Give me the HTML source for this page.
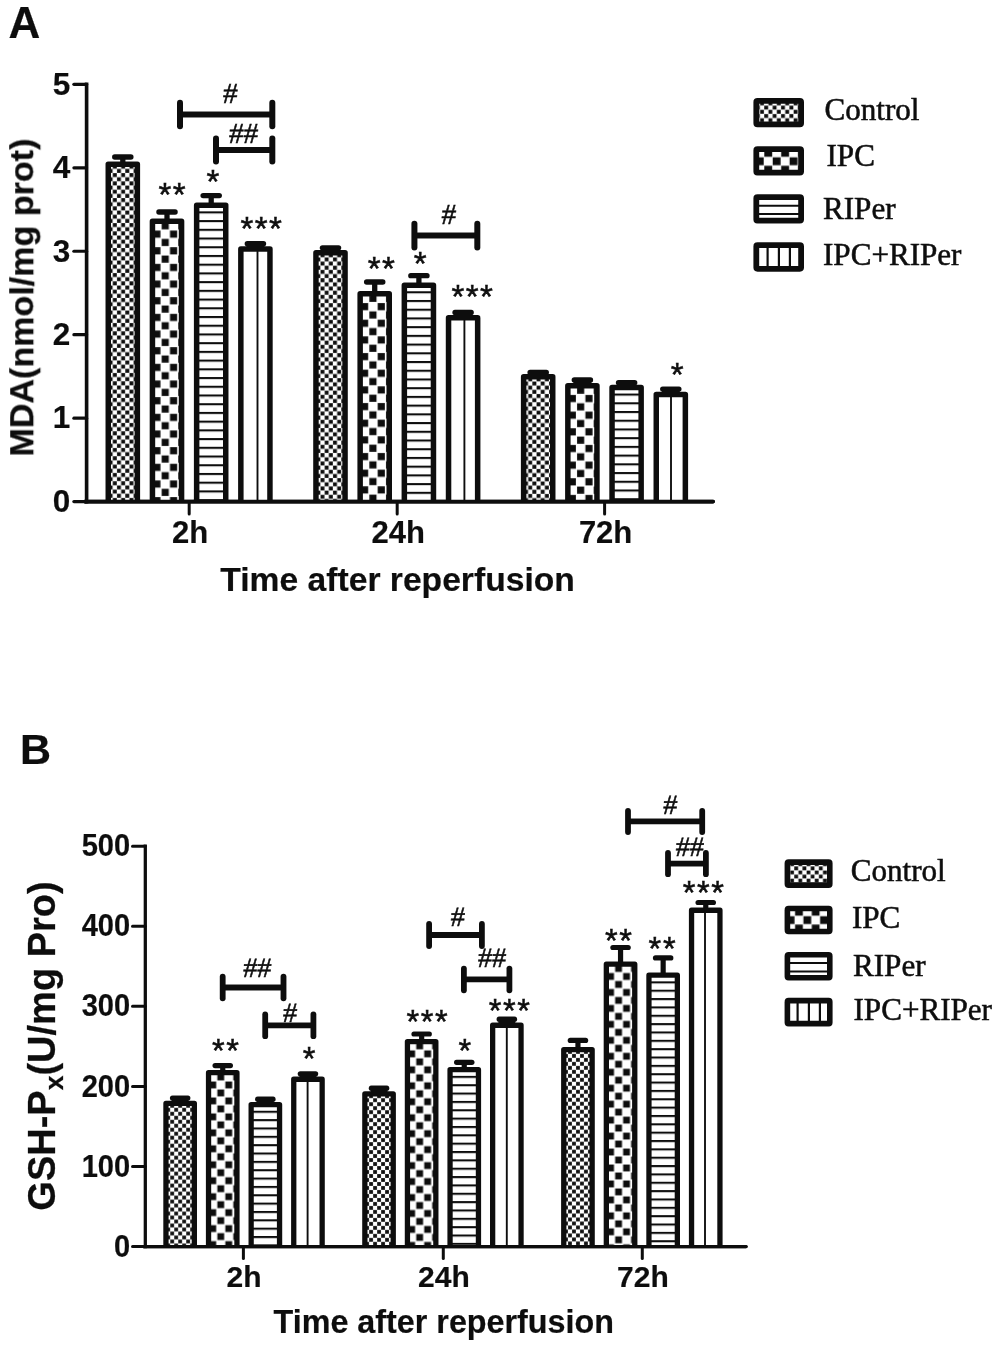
<!DOCTYPE html>
<html lang="en"><head><meta charset="utf-8"><title>MDA and GSH-Px after reperfusion</title>
<style>html,body{margin:0;padding:0;background:#fff}svg{display:block}</style></head><body>
<svg width="1000" height="1347" viewBox="0 0 1000 1347">
<rect width="1000" height="1347" fill="#fff"/>
<defs>
<filter id="soft" x="0" y="0" width="1000" height="1347" filterUnits="userSpaceOnUse"><feGaussianBlur stdDeviation="0.6"/></filter>
<pattern id="af" patternUnits="userSpaceOnUse" x="3.05" y="3.15" width="8.33" height="8.33"><rect width="8.33" height="8.33" fill="#fff"/><rect x="4.27" y="0.1" width="3.96" height="3.96" fill="#111"/><rect x="0.1" y="4.27" width="3.96" height="3.96" fill="#111"/></pattern>
<pattern id="ac" patternUnits="userSpaceOnUse" x="3.05" y="3.15" width="16.66" height="16.66"><rect width="16.66" height="16.66" fill="#fff"/><rect x="8.91" y="0.58" width="7.16" height="7.16" fill="#111"/><rect x="0.58" y="8.91" width="7.16" height="7.16" fill="#111"/></pattern>
<pattern id="ah" patternUnits="userSpaceOnUse" x="0" y="8.85" width="40" height="8.72"><rect width="40" height="8.72" fill="#fff"/><rect x="0" y="0" width="40" height="2.1" fill="#111"/></pattern>
<pattern id="bf" patternUnits="userSpaceOnUse" x="2.9" y="3" width="7.98" height="7.98"><rect width="7.98" height="7.98" fill="#fff"/><rect x="4.09" y="0.1" width="3.79" height="3.79" fill="#111"/><rect x="0.1" y="4.09" width="3.79" height="3.79" fill="#111"/></pattern>
<pattern id="bc" patternUnits="userSpaceOnUse" x="2.9" y="3" width="15.96" height="15.96"><rect width="15.96" height="15.96" fill="#fff"/><rect x="8.54" y="0.56" width="6.86" height="6.86" fill="#111"/><rect x="0.56" y="8.54" width="6.86" height="6.86" fill="#111"/></pattern>
<pattern id="bh" patternUnits="userSpaceOnUse" x="0" y="8.85" width="40" height="8.35"><rect width="40" height="8.35" fill="#fff"/><rect x="0" y="0" width="40" height="2.1" fill="#111"/></pattern>
</defs>
<g filter="url(#soft)">
<line x1="86.6" y1="82.55" x2="86.6" y2="503.4" stroke="#111" stroke-width="3.6" stroke-linecap="butt"/>
<line x1="84.8" y1="501.6" x2="713.2" y2="501.6" stroke="#111" stroke-width="3.6" stroke-linecap="round"/>
<line x1="73.9" y1="501.6" x2="86.6" y2="501.6" stroke="#111" stroke-width="3.2" stroke-linecap="round"/>
<text x="70.3" y="511.9" font-family='"Liberation Sans", Arial, Helvetica, sans-serif' font-size="31.5" font-weight="bold" text-anchor="end" fill="#111" stroke="#111" stroke-width="0.2">0</text>
<line x1="73.9" y1="418.15" x2="86.6" y2="418.15" stroke="#111" stroke-width="3.2" stroke-linecap="round"/>
<text x="70.3" y="428.45" font-family='"Liberation Sans", Arial, Helvetica, sans-serif' font-size="31.5" font-weight="bold" text-anchor="end" fill="#111" stroke="#111" stroke-width="0.2">1</text>
<line x1="73.9" y1="334.7" x2="86.6" y2="334.7" stroke="#111" stroke-width="3.2" stroke-linecap="round"/>
<text x="70.3" y="345" font-family='"Liberation Sans", Arial, Helvetica, sans-serif' font-size="31.5" font-weight="bold" text-anchor="end" fill="#111" stroke="#111" stroke-width="0.2">2</text>
<line x1="73.9" y1="251.25" x2="86.6" y2="251.25" stroke="#111" stroke-width="3.2" stroke-linecap="round"/>
<text x="70.3" y="261.55" font-family='"Liberation Sans", Arial, Helvetica, sans-serif' font-size="31.5" font-weight="bold" text-anchor="end" fill="#111" stroke="#111" stroke-width="0.2">3</text>
<line x1="73.9" y1="167.8" x2="86.6" y2="167.8" stroke="#111" stroke-width="3.2" stroke-linecap="round"/>
<text x="70.3" y="178.1" font-family='"Liberation Sans", Arial, Helvetica, sans-serif' font-size="31.5" font-weight="bold" text-anchor="end" fill="#111" stroke="#111" stroke-width="0.2">4</text>
<line x1="73.9" y1="84.35" x2="86.6" y2="84.35" stroke="#111" stroke-width="3.2" stroke-linecap="round"/>
<text x="70.3" y="94.65" font-family='"Liberation Sans", Arial, Helvetica, sans-serif' font-size="31.5" font-weight="bold" text-anchor="end" fill="#111" stroke="#111" stroke-width="0.2">5</text>
<line x1="189.2" y1="501.6" x2="189.2" y2="514.1" stroke="#111" stroke-width="3" stroke-linecap="round"/>
<text x="190.2" y="542.6" font-family='"Liberation Sans", Arial, Helvetica, sans-serif' font-size="31" font-weight="bold" text-anchor="middle" fill="#111" stroke="#111" stroke-width="0.2">2h</text>
<line x1="397.2" y1="501.6" x2="397.2" y2="514.1" stroke="#111" stroke-width="3" stroke-linecap="round"/>
<text x="398.2" y="542.6" font-family='"Liberation Sans", Arial, Helvetica, sans-serif' font-size="31" font-weight="bold" text-anchor="middle" fill="#111" stroke="#111" stroke-width="0.2">24h</text>
<line x1="604.6" y1="501.6" x2="604.6" y2="514.1" stroke="#111" stroke-width="3" stroke-linecap="round"/>
<text x="605.6" y="542.6" font-family='"Liberation Sans", Arial, Helvetica, sans-serif' font-size="31" font-weight="bold" text-anchor="middle" fill="#111" stroke="#111" stroke-width="0.2">72h</text>
<text x="397.6" y="591.3" font-family='"Liberation Sans", Arial, Helvetica, sans-serif' font-size="33.65" font-weight="bold" text-anchor="middle" fill="#111" stroke="#111" stroke-width="0.2">Time after reperfusion</text>
<text transform="translate(33.2 297.6) rotate(-90)" font-family='"Liberation Sans", Arial, Helvetica, sans-serif' font-size="34.1" font-weight="bold" text-anchor="middle" fill="#111" stroke="#111" stroke-width="0.25">MDA(nmol/mg prot)</text>
<text x="8.6" y="38.4" font-family='"Liberation Sans", Arial, Helvetica, sans-serif' font-size="44" font-weight="bold" text-anchor="start" fill="#111" stroke="#111" stroke-width="0.2">A</text>
<line x1="122.8" y1="157" x2="122.8" y2="163.5" stroke="#111" stroke-width="5.3" stroke-linecap="butt"/>
<line x1="114.7" y1="157" x2="130.9" y2="157" stroke="#111" stroke-width="5.3" stroke-linecap="round"/>
<g transform="translate(105.5 161.5)">
<rect x="2.75" y="2.75" width="29.1" height="337.35" fill="url(#af)"/>
<path d="M2.75 340.1V2.75H31.85V340.1" fill="none" stroke="#111" stroke-width="5.5" stroke-linejoin="round"/>
</g>
<line x1="167" y1="212" x2="167" y2="220.5" stroke="#111" stroke-width="5.3" stroke-linecap="butt"/>
<line x1="158.9" y1="212" x2="175.1" y2="212" stroke="#111" stroke-width="5.3" stroke-linecap="round"/>
<g transform="translate(149.7 218.5)">
<rect x="2.75" y="2.75" width="29.1" height="280.35" fill="url(#ac)"/>
<path d="M2.75 283.1V2.75H31.85V283.1" fill="none" stroke="#111" stroke-width="5.5" stroke-linejoin="round"/>
</g>
<line x1="211.2" y1="195.6" x2="211.2" y2="204.5" stroke="#111" stroke-width="5.3" stroke-linecap="butt"/>
<line x1="203.1" y1="195.6" x2="219.3" y2="195.6" stroke="#111" stroke-width="5.3" stroke-linecap="round"/>
<g transform="translate(193.9 202.5)">
<rect x="2.75" y="2.75" width="29.1" height="296.35" fill="url(#ah)"/>
<path d="M2.75 299.1V2.75H31.85V299.1" fill="none" stroke="#111" stroke-width="5.5" stroke-linejoin="round"/>
</g>
<line x1="255.4" y1="243.75" x2="255.4" y2="248.25" stroke="#111" stroke-width="5.3" stroke-linecap="butt"/>
<line x1="247.3" y1="243.75" x2="263.5" y2="243.75" stroke="#111" stroke-width="5.3" stroke-linecap="round"/>
<rect x="246.45" y="243.75" width="17.9" height="3.5" fill="#111"/>
<g transform="translate(238.1 246.25)">
<rect x="2.75" y="2.75" width="29.1" height="252.6" fill="#fff"/>
<line x1="19.4" y1="2.75" x2="19.4" y2="255.35" stroke="#111" stroke-width="1.9" stroke-linecap="butt"/>
<path d="M2.75 255.35V2.75H31.85V255.35" fill="none" stroke="#111" stroke-width="5.5" stroke-linejoin="round"/>
</g>
<line x1="330.5" y1="247.8" x2="330.5" y2="252" stroke="#111" stroke-width="5.3" stroke-linecap="butt"/>
<line x1="322.4" y1="247.8" x2="338.6" y2="247.8" stroke="#111" stroke-width="5.3" stroke-linecap="round"/>
<rect x="321.55" y="247.8" width="17.9" height="3.2" fill="#111"/>
<g transform="translate(313.2 250)">
<rect x="2.75" y="2.75" width="29.1" height="248.85" fill="url(#af)"/>
<path d="M2.75 251.6V2.75H31.85V251.6" fill="none" stroke="#111" stroke-width="5.5" stroke-linejoin="round"/>
</g>
<line x1="374.7" y1="282" x2="374.7" y2="293" stroke="#111" stroke-width="5.3" stroke-linecap="butt"/>
<line x1="366.6" y1="282" x2="382.8" y2="282" stroke="#111" stroke-width="5.3" stroke-linecap="round"/>
<g transform="translate(357.4 291)">
<rect x="2.75" y="2.75" width="29.1" height="207.85" fill="url(#ac)"/>
<path d="M2.75 210.6V2.75H31.85V210.6" fill="none" stroke="#111" stroke-width="5.5" stroke-linejoin="round"/>
</g>
<line x1="418.9" y1="275.7" x2="418.9" y2="284.4" stroke="#111" stroke-width="5.3" stroke-linecap="butt"/>
<line x1="410.8" y1="275.7" x2="427" y2="275.7" stroke="#111" stroke-width="5.3" stroke-linecap="round"/>
<g transform="translate(401.6 282.4)">
<rect x="2.75" y="2.75" width="29.1" height="216.45" fill="url(#ah)"/>
<path d="M2.75 219.2V2.75H31.85V219.2" fill="none" stroke="#111" stroke-width="5.5" stroke-linejoin="round"/>
</g>
<line x1="463.1" y1="312.5" x2="463.1" y2="317" stroke="#111" stroke-width="5.3" stroke-linecap="butt"/>
<line x1="455" y1="312.5" x2="471.2" y2="312.5" stroke="#111" stroke-width="5.3" stroke-linecap="round"/>
<rect x="454.15" y="312.5" width="17.9" height="3.5" fill="#111"/>
<g transform="translate(445.8 315)">
<rect x="2.75" y="2.75" width="29.1" height="183.85" fill="#fff"/>
<line x1="18.6" y1="2.75" x2="18.6" y2="186.6" stroke="#111" stroke-width="1.9" stroke-linecap="butt"/>
<path d="M2.75 186.6V2.75H31.85V186.6" fill="none" stroke="#111" stroke-width="5.5" stroke-linejoin="round"/>
</g>
<line x1="538.2" y1="372.4" x2="538.2" y2="376.1" stroke="#111" stroke-width="5.3" stroke-linecap="butt"/>
<line x1="530.1" y1="372.4" x2="546.3" y2="372.4" stroke="#111" stroke-width="5.3" stroke-linecap="round"/>
<rect x="529.25" y="372.4" width="17.9" height="2.7" fill="#111"/>
<g transform="translate(520.9 374.1)">
<rect x="2.75" y="2.75" width="29.1" height="124.75" fill="url(#af)"/>
<path d="M2.75 127.5V2.75H31.85V127.5" fill="none" stroke="#111" stroke-width="5.5" stroke-linejoin="round"/>
</g>
<line x1="582.4" y1="380" x2="582.4" y2="384.9" stroke="#111" stroke-width="5.3" stroke-linecap="butt"/>
<line x1="574.3" y1="380" x2="590.5" y2="380" stroke="#111" stroke-width="5.3" stroke-linecap="round"/>
<rect x="573.45" y="380" width="17.9" height="3.9" fill="#111"/>
<g transform="translate(565.1 382.9)">
<rect x="2.75" y="2.75" width="29.1" height="115.95" fill="url(#ac)"/>
<path d="M2.75 118.7V2.75H31.85V118.7" fill="none" stroke="#111" stroke-width="5.5" stroke-linejoin="round"/>
</g>
<line x1="626.6" y1="382.7" x2="626.6" y2="386.7" stroke="#111" stroke-width="5.3" stroke-linecap="butt"/>
<line x1="618.5" y1="382.7" x2="634.7" y2="382.7" stroke="#111" stroke-width="5.3" stroke-linecap="round"/>
<rect x="617.65" y="382.7" width="17.9" height="3" fill="#111"/>
<g transform="translate(609.3 384.7)">
<rect x="2.75" y="2.75" width="29.1" height="114.15" fill="url(#ah)"/>
<path d="M2.75 116.9V2.75H31.85V116.9" fill="none" stroke="#111" stroke-width="5.5" stroke-linejoin="round"/>
</g>
<line x1="670.8" y1="389.1" x2="670.8" y2="393.7" stroke="#111" stroke-width="5.3" stroke-linecap="butt"/>
<line x1="662.7" y1="389.1" x2="678.9" y2="389.1" stroke="#111" stroke-width="5.3" stroke-linecap="round"/>
<rect x="661.85" y="389.1" width="17.9" height="3.6" fill="#111"/>
<g transform="translate(653.5 391.7)">
<rect x="2.75" y="2.75" width="29.1" height="107.15" fill="#fff"/>
<line x1="17.5" y1="2.75" x2="17.5" y2="109.9" stroke="#111" stroke-width="1.9" stroke-linecap="butt"/>
<path d="M2.75 109.9V2.75H31.85V109.9" fill="none" stroke="#111" stroke-width="5.5" stroke-linejoin="round"/>
</g>
<line x1="84.8" y1="501.6" x2="713.2" y2="501.6" stroke="#111" stroke-width="3.6" stroke-linecap="round"/>
<text x="172.83" y="206.35" font-family='"Liberation Sans", Arial, Helvetica, sans-serif' font-size="33" font-weight="normal" text-anchor="middle" fill="#111" stroke="#111" stroke-width="0.5" letter-spacing="1.46">**</text>
<text x="213.63" y="193.35" font-family='"Liberation Sans", Arial, Helvetica, sans-serif' font-size="33" font-weight="normal" text-anchor="middle" fill="#111" stroke="#111" stroke-width="0.5" letter-spacing="1.46">*</text>
<text x="261.93" y="239.66" font-family='"Liberation Sans", Arial, Helvetica, sans-serif' font-size="33" font-weight="normal" text-anchor="middle" fill="#111" stroke="#111" stroke-width="0.5" letter-spacing="1.46">***</text>
<text x="381.93" y="279.75" font-family='"Liberation Sans", Arial, Helvetica, sans-serif' font-size="33" font-weight="normal" text-anchor="middle" fill="#111" stroke="#111" stroke-width="0.5" letter-spacing="1.46">**</text>
<text x="420.93" y="274.56" font-family='"Liberation Sans", Arial, Helvetica, sans-serif' font-size="33" font-weight="normal" text-anchor="middle" fill="#111" stroke="#111" stroke-width="0.5" letter-spacing="1.46">*</text>
<text x="472.93" y="307.75" font-family='"Liberation Sans", Arial, Helvetica, sans-serif' font-size="33" font-weight="normal" text-anchor="middle" fill="#111" stroke="#111" stroke-width="0.5" letter-spacing="1.46">***</text>
<text x="678.03" y="385.75" font-family='"Liberation Sans", Arial, Helvetica, sans-serif' font-size="33" font-weight="normal" text-anchor="middle" fill="#111" stroke="#111" stroke-width="0.5" letter-spacing="1.46">*</text>
<line x1="180" y1="114.5" x2="272.3" y2="114.5" stroke="#111" stroke-width="6" stroke-linecap="butt"/>
<line x1="180" y1="102.75" x2="180" y2="126.25" stroke="#111" stroke-width="6" stroke-linecap="round"/>
<line x1="272.3" y1="102.75" x2="272.3" y2="126.25" stroke="#111" stroke-width="6" stroke-linecap="round"/>
<text transform="translate(229.4 103.28) skewX(-5.5)" font-family='"Liberation Serif", "Times New Roman", Times, serif' font-size="29" text-anchor="middle" fill="#111" stroke="#111" stroke-width="0.55">#</text>
<line x1="216" y1="150" x2="272.3" y2="150" stroke="#111" stroke-width="6" stroke-linecap="butt"/>
<line x1="216" y1="138.5" x2="216" y2="161.5" stroke="#111" stroke-width="6" stroke-linecap="round"/>
<line x1="272.3" y1="138.5" x2="272.3" y2="161.5" stroke="#111" stroke-width="6" stroke-linecap="round"/>
<text transform="translate(242.7 143.19) skewX(-5.5)" font-family='"Liberation Serif", "Times New Roman", Times, serif' font-size="29" text-anchor="middle" fill="#111" stroke="#111" stroke-width="0.55">##</text>
<line x1="414.4" y1="235.6" x2="477.3" y2="235.6" stroke="#111" stroke-width="6" stroke-linecap="butt"/>
<line x1="414.4" y1="223.75" x2="414.4" y2="247.45" stroke="#111" stroke-width="6" stroke-linecap="round"/>
<line x1="477.3" y1="223.75" x2="477.3" y2="247.45" stroke="#111" stroke-width="6" stroke-linecap="round"/>
<text transform="translate(448 224.28) skewX(-5.5)" font-family='"Liberation Serif", "Times New Roman", Times, serif' font-size="29" text-anchor="middle" fill="#111" stroke="#111" stroke-width="0.55">#</text>
<rect x="756.3" y="100.8" width="44.8" height="23.6" fill="url(#la0)"/>
<rect x="756.3" y="100.8" width="44.8" height="23.6" rx="1.2" fill="none" stroke="#111" stroke-width="5.8" stroke-linejoin="round"/>
<text x="824.5" y="119.8" font-family='"Liberation Serif", "Times New Roman", Times, serif' font-size="31.1" font-weight="normal" text-anchor="start" fill="#111" stroke="#111" stroke-width="0.55">Control</text>
<rect x="756.3" y="149.1" width="44.8" height="23.6" fill="url(#la1)"/>
<rect x="756.3" y="149.1" width="44.8" height="23.6" rx="1.2" fill="none" stroke="#111" stroke-width="5.8" stroke-linejoin="round"/>
<text x="826.5" y="166" font-family='"Liberation Serif", "Times New Roman", Times, serif' font-size="31.1" font-weight="normal" text-anchor="start" fill="#111" stroke="#111" stroke-width="0.55">IPC</text>
<rect x="756.3" y="197.1" width="44.8" height="23.6" fill="#fff"/>
<line x1="756.3" y1="205.7" x2="801.1" y2="205.7" stroke="#111" stroke-width="2" stroke-linecap="butt"/>
<line x1="756.3" y1="213.9" x2="801.1" y2="213.9" stroke="#111" stroke-width="2" stroke-linecap="butt"/>
<rect x="756.3" y="197.1" width="44.8" height="23.6" rx="1.2" fill="none" stroke="#111" stroke-width="5.8" stroke-linejoin="round"/>
<text x="823" y="219" font-family='"Liberation Serif", "Times New Roman", Times, serif' font-size="31.1" font-weight="normal" text-anchor="start" fill="#111" stroke="#111" stroke-width="0.55">RIPer</text>
<rect x="756.3" y="245.2" width="44.8" height="23.6" fill="#fff"/>
<line x1="767.6" y1="245.2" x2="767.6" y2="268.8" stroke="#111" stroke-width="2.2" stroke-linecap="butt"/>
<line x1="778.9" y1="245.2" x2="778.9" y2="268.8" stroke="#111" stroke-width="2.2" stroke-linecap="butt"/>
<line x1="789.9" y1="245.2" x2="789.9" y2="268.8" stroke="#111" stroke-width="2.2" stroke-linecap="butt"/>
<rect x="756.3" y="245.2" width="44.8" height="23.6" rx="1.2" fill="none" stroke="#111" stroke-width="5.8" stroke-linejoin="round"/>
<text x="823" y="264.6" font-family='"Liberation Serif", "Times New Roman", Times, serif' font-size="31.1" font-weight="normal" text-anchor="start" fill="#111" stroke="#111" stroke-width="0.55">IPC+RIPer</text>
<line x1="145.3" y1="844.55" x2="145.3" y2="1248.25" stroke="#111" stroke-width="3.3" stroke-linecap="butt"/>
<line x1="143.65" y1="1246.6" x2="746" y2="1246.6" stroke="#111" stroke-width="3.3" stroke-linecap="round"/>
<line x1="132.5" y1="1246.6" x2="145.3" y2="1246.6" stroke="#111" stroke-width="3" stroke-linecap="round"/>
<text transform="translate(130.2 1256.7) scale(0.945 1)" font-family='"Liberation Sans", Arial, Helvetica, sans-serif' font-size="30.8" font-weight="bold" text-anchor="end" fill="#111" stroke="#111" stroke-width="0.2">0</text>
<line x1="132.5" y1="1166.52" x2="145.3" y2="1166.52" stroke="#111" stroke-width="3" stroke-linecap="round"/>
<text transform="translate(130.2 1176.62) scale(0.945 1)" font-family='"Liberation Sans", Arial, Helvetica, sans-serif' font-size="30.8" font-weight="bold" text-anchor="end" fill="#111" stroke="#111" stroke-width="0.2">100</text>
<line x1="132.5" y1="1086.44" x2="145.3" y2="1086.44" stroke="#111" stroke-width="3" stroke-linecap="round"/>
<text transform="translate(130.2 1096.54) scale(0.945 1)" font-family='"Liberation Sans", Arial, Helvetica, sans-serif' font-size="30.8" font-weight="bold" text-anchor="end" fill="#111" stroke="#111" stroke-width="0.2">200</text>
<line x1="132.5" y1="1006.36" x2="145.3" y2="1006.36" stroke="#111" stroke-width="3" stroke-linecap="round"/>
<text transform="translate(130.2 1016.46) scale(0.945 1)" font-family='"Liberation Sans", Arial, Helvetica, sans-serif' font-size="30.8" font-weight="bold" text-anchor="end" fill="#111" stroke="#111" stroke-width="0.2">300</text>
<line x1="132.5" y1="926.28" x2="145.3" y2="926.28" stroke="#111" stroke-width="3" stroke-linecap="round"/>
<text transform="translate(130.2 936.38) scale(0.945 1)" font-family='"Liberation Sans", Arial, Helvetica, sans-serif' font-size="30.8" font-weight="bold" text-anchor="end" fill="#111" stroke="#111" stroke-width="0.2">400</text>
<line x1="132.5" y1="846.2" x2="145.3" y2="846.2" stroke="#111" stroke-width="3" stroke-linecap="round"/>
<text transform="translate(130.2 856.3) scale(0.945 1)" font-family='"Liberation Sans", Arial, Helvetica, sans-serif' font-size="30.8" font-weight="bold" text-anchor="end" fill="#111" stroke="#111" stroke-width="0.2">500</text>
<line x1="243.4" y1="1246.6" x2="243.4" y2="1258.6" stroke="#111" stroke-width="3" stroke-linecap="round"/>
<text x="244" y="1286.6" font-family='"Liberation Sans", Arial, Helvetica, sans-serif' font-size="30" font-weight="bold" text-anchor="middle" fill="#111" stroke="#111" stroke-width="0.2">2h</text>
<line x1="443.3" y1="1246.6" x2="443.3" y2="1258.6" stroke="#111" stroke-width="3" stroke-linecap="round"/>
<text x="443.9" y="1286.6" font-family='"Liberation Sans", Arial, Helvetica, sans-serif' font-size="30" font-weight="bold" text-anchor="middle" fill="#111" stroke="#111" stroke-width="0.2">24h</text>
<line x1="642.3" y1="1246.6" x2="642.3" y2="1258.6" stroke="#111" stroke-width="3" stroke-linecap="round"/>
<text x="642.9" y="1286.6" font-family='"Liberation Sans", Arial, Helvetica, sans-serif' font-size="30" font-weight="bold" text-anchor="middle" fill="#111" stroke="#111" stroke-width="0.2">72h</text>
<text x="443.8" y="1333.3" font-family='"Liberation Sans", Arial, Helvetica, sans-serif' font-size="32.3" font-weight="bold" text-anchor="middle" fill="#111" stroke="#111" stroke-width="0.2">Time after reperfusion</text>
<text transform="translate(54.9 1046) rotate(-90)" font-family='"Liberation Sans", Arial, Helvetica, sans-serif' font-size="38" font-weight="bold" text-anchor="middle" fill="#111" stroke="#111" stroke-width="0.25">GSH-P<tspan font-size="26.5" dy="8.3">x</tspan><tspan dy="-8.3">(U/mg Pro)</tspan></text>
<text x="20" y="764.4" font-family='"Liberation Sans", Arial, Helvetica, sans-serif' font-size="43" font-weight="bold" text-anchor="start" fill="#111" stroke="#111" stroke-width="0.2">B</text>
<line x1="180.15" y1="1098" x2="180.15" y2="1102.8" stroke="#111" stroke-width="5.2" stroke-linecap="butt"/>
<line x1="172.5" y1="1098" x2="187.8" y2="1098" stroke="#111" stroke-width="5.2" stroke-linecap="round"/>
<rect x="171.7" y="1098" width="16.9" height="3.8" fill="#111"/>
<g transform="translate(163.3 1100.8)">
<rect x="2.65" y="2.65" width="28.4" height="143.15" fill="url(#bf)"/>
<path d="M2.65 145.8V2.65H31.05V145.8" fill="none" stroke="#111" stroke-width="5.3" stroke-linejoin="round"/>
</g>
<line x1="222.75" y1="1065.6" x2="222.75" y2="1072" stroke="#111" stroke-width="5.2" stroke-linecap="butt"/>
<line x1="215.1" y1="1065.6" x2="230.4" y2="1065.6" stroke="#111" stroke-width="5.2" stroke-linecap="round"/>
<g transform="translate(205.9 1070)">
<rect x="2.65" y="2.65" width="28.4" height="173.95" fill="url(#bc)"/>
<path d="M2.65 176.6V2.65H31.05V176.6" fill="none" stroke="#111" stroke-width="5.3" stroke-linejoin="round"/>
</g>
<line x1="265.35" y1="1099.2" x2="265.35" y2="1103.9" stroke="#111" stroke-width="5.2" stroke-linecap="butt"/>
<line x1="257.7" y1="1099.2" x2="273" y2="1099.2" stroke="#111" stroke-width="5.2" stroke-linecap="round"/>
<rect x="256.9" y="1099.2" width="16.9" height="3.7" fill="#111"/>
<g transform="translate(248.5 1101.9)">
<rect x="2.65" y="2.65" width="28.4" height="142.05" fill="url(#bh)"/>
<path d="M2.65 144.7V2.65H31.05V144.7" fill="none" stroke="#111" stroke-width="5.3" stroke-linejoin="round"/>
</g>
<line x1="307.95" y1="1073.8" x2="307.95" y2="1078.6" stroke="#111" stroke-width="5.2" stroke-linecap="butt"/>
<line x1="300.3" y1="1073.8" x2="315.6" y2="1073.8" stroke="#111" stroke-width="5.2" stroke-linecap="round"/>
<rect x="299.5" y="1073.8" width="16.9" height="3.8" fill="#111"/>
<g transform="translate(291.1 1076.6)">
<rect x="2.65" y="2.65" width="28.4" height="167.35" fill="#fff"/>
<line x1="16.5" y1="2.65" x2="16.5" y2="170" stroke="#111" stroke-width="1.9" stroke-linecap="butt"/>
<path d="M2.65 170V2.65H31.05V170" fill="none" stroke="#111" stroke-width="5.3" stroke-linejoin="round"/>
</g>
<line x1="379.05" y1="1088.2" x2="379.05" y2="1093.2" stroke="#111" stroke-width="5.2" stroke-linecap="butt"/>
<line x1="371.4" y1="1088.2" x2="386.7" y2="1088.2" stroke="#111" stroke-width="5.2" stroke-linecap="round"/>
<rect x="370.6" y="1088.2" width="16.9" height="4" fill="#111"/>
<g transform="translate(362.2 1091.2)">
<rect x="2.65" y="2.65" width="28.4" height="152.75" fill="url(#bf)"/>
<path d="M2.65 155.4V2.65H31.05V155.4" fill="none" stroke="#111" stroke-width="5.3" stroke-linejoin="round"/>
</g>
<line x1="421.65" y1="1034" x2="421.65" y2="1040.9" stroke="#111" stroke-width="5.2" stroke-linecap="butt"/>
<line x1="414" y1="1034" x2="429.3" y2="1034" stroke="#111" stroke-width="5.2" stroke-linecap="round"/>
<g transform="translate(404.8 1038.9)">
<rect x="2.65" y="2.65" width="28.4" height="205.05" fill="url(#bc)"/>
<path d="M2.65 207.7V2.65H31.05V207.7" fill="none" stroke="#111" stroke-width="5.3" stroke-linejoin="round"/>
</g>
<line x1="464.25" y1="1062.3" x2="464.25" y2="1069" stroke="#111" stroke-width="5.2" stroke-linecap="butt"/>
<line x1="456.6" y1="1062.3" x2="471.9" y2="1062.3" stroke="#111" stroke-width="5.2" stroke-linecap="round"/>
<g transform="translate(447.4 1067)">
<rect x="2.65" y="2.65" width="28.4" height="176.95" fill="url(#bh)"/>
<path d="M2.65 179.6V2.65H31.05V179.6" fill="none" stroke="#111" stroke-width="5.3" stroke-linejoin="round"/>
</g>
<line x1="506.85" y1="1019.2" x2="506.85" y2="1024.6" stroke="#111" stroke-width="5.2" stroke-linecap="butt"/>
<line x1="499.2" y1="1019.2" x2="514.5" y2="1019.2" stroke="#111" stroke-width="5.2" stroke-linecap="round"/>
<rect x="498.4" y="1019.2" width="16.9" height="4.4" fill="#111"/>
<g transform="translate(490 1022.6)">
<rect x="2.65" y="2.65" width="28.4" height="221.35" fill="#fff"/>
<line x1="16.8" y1="2.65" x2="16.8" y2="224" stroke="#111" stroke-width="1.9" stroke-linecap="butt"/>
<path d="M2.65 224V2.65H31.05V224" fill="none" stroke="#111" stroke-width="5.3" stroke-linejoin="round"/>
</g>
<line x1="577.95" y1="1040.4" x2="577.95" y2="1048.9" stroke="#111" stroke-width="5.2" stroke-linecap="butt"/>
<line x1="570.3" y1="1040.4" x2="585.6" y2="1040.4" stroke="#111" stroke-width="5.2" stroke-linecap="round"/>
<g transform="translate(561.1 1046.9)">
<rect x="2.65" y="2.65" width="28.4" height="197.05" fill="url(#bf)"/>
<path d="M2.65 199.7V2.65H31.05V199.7" fill="none" stroke="#111" stroke-width="5.3" stroke-linejoin="round"/>
</g>
<line x1="620.55" y1="947.5" x2="620.55" y2="963.5" stroke="#111" stroke-width="5.2" stroke-linecap="butt"/>
<line x1="612.9" y1="947.5" x2="628.2" y2="947.5" stroke="#111" stroke-width="5.2" stroke-linecap="round"/>
<g transform="translate(603.7 961.5)">
<rect x="2.65" y="2.65" width="28.4" height="282.45" fill="url(#bc)"/>
<path d="M2.65 285.1V2.65H31.05V285.1" fill="none" stroke="#111" stroke-width="5.3" stroke-linejoin="round"/>
</g>
<line x1="663.15" y1="957.9" x2="663.15" y2="974.5" stroke="#111" stroke-width="5.2" stroke-linecap="butt"/>
<line x1="655.5" y1="957.9" x2="670.8" y2="957.9" stroke="#111" stroke-width="5.2" stroke-linecap="round"/>
<g transform="translate(646.3 972.5)">
<rect x="2.65" y="2.65" width="28.4" height="271.45" fill="url(#bh)"/>
<path d="M2.65 274.1V2.65H31.05V274.1" fill="none" stroke="#111" stroke-width="5.3" stroke-linejoin="round"/>
</g>
<line x1="705.75" y1="902.5" x2="705.75" y2="909.6" stroke="#111" stroke-width="5.2" stroke-linecap="butt"/>
<line x1="698.1" y1="902.5" x2="713.4" y2="902.5" stroke="#111" stroke-width="5.2" stroke-linecap="round"/>
<g transform="translate(688.9 907.6)">
<rect x="2.65" y="2.65" width="28.4" height="336.35" fill="#fff"/>
<line x1="16.1" y1="2.65" x2="16.1" y2="339" stroke="#111" stroke-width="1.9" stroke-linecap="butt"/>
<path d="M2.65 339V2.65H31.05V339" fill="none" stroke="#111" stroke-width="5.3" stroke-linejoin="round"/>
</g>
<line x1="143.65" y1="1246.6" x2="746" y2="1246.6" stroke="#111" stroke-width="3.3" stroke-linecap="round"/>
<text x="226.23" y="1062.49" font-family='"Liberation Sans", Arial, Helvetica, sans-serif' font-size="32.5" font-weight="normal" text-anchor="middle" fill="#111" stroke="#111" stroke-width="0.5" letter-spacing="1.66">**</text>
<text x="309.93" y="1069.79" font-family='"Liberation Sans", Arial, Helvetica, sans-serif' font-size="32.5" font-weight="normal" text-anchor="middle" fill="#111" stroke="#111" stroke-width="0.5" letter-spacing="1.66">*</text>
<text x="427.93" y="1033.09" font-family='"Liberation Sans", Arial, Helvetica, sans-serif' font-size="32.5" font-weight="normal" text-anchor="middle" fill="#111" stroke="#111" stroke-width="0.5" letter-spacing="1.66">***</text>
<text x="465.63" y="1061.79" font-family='"Liberation Sans", Arial, Helvetica, sans-serif' font-size="32.5" font-weight="normal" text-anchor="middle" fill="#111" stroke="#111" stroke-width="0.5" letter-spacing="1.66">*</text>
<text x="510.23" y="1021.69" font-family='"Liberation Sans", Arial, Helvetica, sans-serif' font-size="32.5" font-weight="normal" text-anchor="middle" fill="#111" stroke="#111" stroke-width="0.5" letter-spacing="1.66">***</text>
<text x="619.23" y="951.89" font-family='"Liberation Sans", Arial, Helvetica, sans-serif' font-size="32.5" font-weight="normal" text-anchor="middle" fill="#111" stroke="#111" stroke-width="0.5" letter-spacing="1.66">**</text>
<text x="662.93" y="960.19" font-family='"Liberation Sans", Arial, Helvetica, sans-serif' font-size="32.5" font-weight="normal" text-anchor="middle" fill="#111" stroke="#111" stroke-width="0.5" letter-spacing="1.66">**</text>
<text x="704.13" y="904.09" font-family='"Liberation Sans", Arial, Helvetica, sans-serif' font-size="32.5" font-weight="normal" text-anchor="middle" fill="#111" stroke="#111" stroke-width="0.5" letter-spacing="1.66">***</text>
<line x1="222.7" y1="987.5" x2="283.5" y2="987.5" stroke="#111" stroke-width="5.8" stroke-linecap="butt"/>
<line x1="222.7" y1="976.65" x2="222.7" y2="998.35" stroke="#111" stroke-width="5.8" stroke-linecap="round"/>
<line x1="283.5" y1="976.65" x2="283.5" y2="998.35" stroke="#111" stroke-width="5.8" stroke-linecap="round"/>
<text transform="translate(256.5 977.12) skewX(-5.5)" font-family='"Liberation Serif", "Times New Roman", Times, serif' font-size="28" text-anchor="middle" fill="#111" stroke="#111" stroke-width="0.55">##</text>
<line x1="265.2" y1="1025.3" x2="313.4" y2="1025.3" stroke="#111" stroke-width="5.8" stroke-linecap="butt"/>
<line x1="265.2" y1="1014.45" x2="265.2" y2="1036.15" stroke="#111" stroke-width="5.8" stroke-linecap="round"/>
<line x1="313.4" y1="1014.45" x2="313.4" y2="1036.15" stroke="#111" stroke-width="5.8" stroke-linecap="round"/>
<text transform="translate(289.2 1021.52) skewX(-5.5)" font-family='"Liberation Serif", "Times New Roman", Times, serif' font-size="28" text-anchor="middle" fill="#111" stroke="#111" stroke-width="0.55">#</text>
<line x1="429.1" y1="935" x2="481.9" y2="935" stroke="#111" stroke-width="5.8" stroke-linecap="butt"/>
<line x1="429.1" y1="923.9" x2="429.1" y2="946.1" stroke="#111" stroke-width="5.8" stroke-linecap="round"/>
<line x1="481.9" y1="923.9" x2="481.9" y2="946.1" stroke="#111" stroke-width="5.8" stroke-linecap="round"/>
<text transform="translate(456.9 926.12) skewX(-5.5)" font-family='"Liberation Serif", "Times New Roman", Times, serif' font-size="28" text-anchor="middle" fill="#111" stroke="#111" stroke-width="0.55">#</text>
<line x1="463.9" y1="979.4" x2="509.4" y2="979.4" stroke="#111" stroke-width="5.8" stroke-linecap="butt"/>
<line x1="463.9" y1="968.55" x2="463.9" y2="990.25" stroke="#111" stroke-width="5.8" stroke-linecap="round"/>
<line x1="509.4" y1="968.55" x2="509.4" y2="990.25" stroke="#111" stroke-width="5.8" stroke-linecap="round"/>
<text transform="translate(491.2 966.82) skewX(-5.5)" font-family='"Liberation Serif", "Times New Roman", Times, serif' font-size="28" text-anchor="middle" fill="#111" stroke="#111" stroke-width="0.55">##</text>
<line x1="628" y1="821.4" x2="702.2" y2="821.4" stroke="#111" stroke-width="5.8" stroke-linecap="butt"/>
<line x1="628" y1="810.8" x2="628" y2="832" stroke="#111" stroke-width="5.8" stroke-linecap="round"/>
<line x1="702.2" y1="810.8" x2="702.2" y2="832" stroke="#111" stroke-width="5.8" stroke-linecap="round"/>
<text transform="translate(669.4 813.62) skewX(-5.5)" font-family='"Liberation Serif", "Times New Roman", Times, serif' font-size="28" text-anchor="middle" fill="#111" stroke="#111" stroke-width="0.55">#</text>
<line x1="668" y1="863.6" x2="705.9" y2="863.6" stroke="#111" stroke-width="5.8" stroke-linecap="butt"/>
<line x1="668" y1="853" x2="668" y2="874.2" stroke="#111" stroke-width="5.8" stroke-linecap="round"/>
<line x1="705.9" y1="853" x2="705.9" y2="874.2" stroke="#111" stroke-width="5.8" stroke-linecap="round"/>
<text transform="translate(689 856.22) skewX(-5.5)" font-family='"Liberation Serif", "Times New Roman", Times, serif' font-size="28" text-anchor="middle" fill="#111" stroke="#111" stroke-width="0.55">##</text>
<rect x="787.4" y="862.1" width="42.4" height="23" fill="url(#lb0)"/>
<rect x="787.4" y="862.1" width="42.4" height="23" rx="1.2" fill="none" stroke="#111" stroke-width="5.6" stroke-linejoin="round"/>
<text x="850.7" y="880.9" font-family='"Liberation Serif", "Times New Roman", Times, serif' font-size="31.1" font-weight="normal" text-anchor="start" fill="#111" stroke="#111" stroke-width="0.55">Control</text>
<rect x="787.4" y="908.5" width="42.4" height="23" fill="url(#lb1)"/>
<rect x="787.4" y="908.5" width="42.4" height="23" rx="1.2" fill="none" stroke="#111" stroke-width="5.6" stroke-linejoin="round"/>
<text x="851.9" y="927.9" font-family='"Liberation Serif", "Times New Roman", Times, serif' font-size="31.1" font-weight="normal" text-anchor="start" fill="#111" stroke="#111" stroke-width="0.55">IPC</text>
<rect x="787.4" y="954.8" width="42.4" height="23" fill="#fff"/>
<line x1="787.4" y1="962.9" x2="829.8" y2="962.9" stroke="#111" stroke-width="2" stroke-linecap="butt"/>
<line x1="787.4" y1="971.4" x2="829.8" y2="971.4" stroke="#111" stroke-width="2" stroke-linecap="butt"/>
<rect x="787.4" y="954.8" width="42.4" height="23" rx="1.2" fill="none" stroke="#111" stroke-width="5.6" stroke-linejoin="round"/>
<text x="853" y="975.9" font-family='"Liberation Serif", "Times New Roman", Times, serif' font-size="31.1" font-weight="normal" text-anchor="start" fill="#111" stroke="#111" stroke-width="0.55">RIPer</text>
<rect x="787.4" y="1000.6" width="42.4" height="23" fill="#fff"/>
<line x1="797.6" y1="1000.6" x2="797.6" y2="1023.6" stroke="#111" stroke-width="2.2" stroke-linecap="butt"/>
<line x1="808.9" y1="1000.6" x2="808.9" y2="1023.6" stroke="#111" stroke-width="2.2" stroke-linecap="butt"/>
<line x1="819.9" y1="1000.6" x2="819.9" y2="1023.6" stroke="#111" stroke-width="2.2" stroke-linecap="butt"/>
<rect x="787.4" y="1000.6" width="42.4" height="23" rx="1.2" fill="none" stroke="#111" stroke-width="5.6" stroke-linejoin="round"/>
<text x="853.5" y="1019.6" font-family='"Liberation Serif", "Times New Roman", Times, serif' font-size="31.1" font-weight="normal" text-anchor="start" fill="#111" stroke="#111" stroke-width="0.55">IPC+RIPer</text>
</g>
<defs>
<pattern id="la0" patternUnits="userSpaceOnUse" x="764.1" y="105.5" width="8.4" height="8.4"><rect width="8.4" height="8.4" fill="#fff"/><rect x="0.15" y="0.15" width="3.9" height="3.9" fill="#111"/><rect x="4.35" y="4.35" width="3.9" height="3.9" fill="#111"/></pattern>
<pattern id="la1" patternUnits="userSpaceOnUse" x="764" y="148.6" width="16.9" height="16.9"><rect width="16.9" height="16.9" fill="#fff"/><rect x="0.27" y="0.27" width="7.9" height="7.9" fill="#111"/><rect x="8.72" y="8.72" width="7.9" height="7.9" fill="#111"/></pattern>
<pattern id="lb0" patternUnits="userSpaceOnUse" x="794.15" y="866.3" width="8.2" height="8.2"><rect width="8.2" height="8.2" fill="#fff"/><rect x="0.15" y="0.15" width="3.8" height="3.8" fill="#111"/><rect x="4.25" y="4.25" width="3.8" height="3.8" fill="#111"/></pattern>
<pattern id="lb1" patternUnits="userSpaceOnUse" x="794.8" y="907.6" width="16.7" height="16.7"><rect width="16.7" height="16.7" fill="#fff"/><rect x="0.27" y="0.27" width="7.8" height="7.8" fill="#111"/><rect x="8.62" y="8.62" width="7.8" height="7.8" fill="#111"/></pattern>
</defs>
</svg></body></html>
